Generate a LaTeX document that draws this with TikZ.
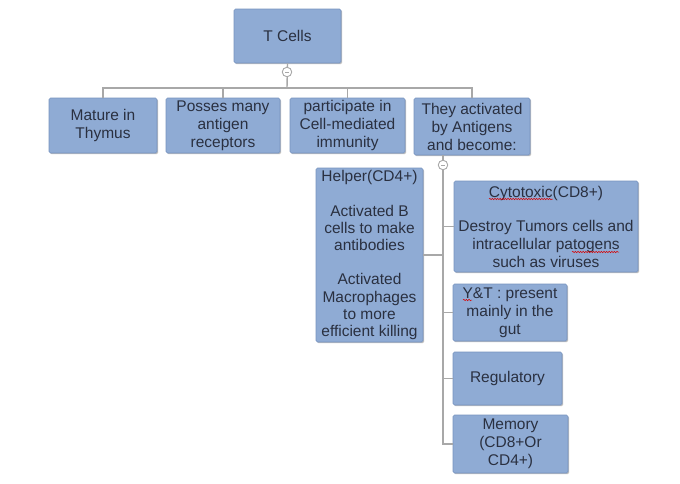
\documentclass[tikz,border=0pt]{standalone}
\usepackage{fontspec}
\setmainfont{Liberation Sans}
\usetikzlibrary{shadows,decorations.pathmorphing}
\definecolor{boxfill}{RGB}{143,171,212}
\definecolor{boxline}{RGB}{118,146,190}
\definecolor{txt}{RGB}{42,48,64}
\definecolor{conn}{RGB}{168,168,168}
\tikzset{
  card/.style={draw=boxline, line width=0.6pt, fill=boxfill, rounded corners=1.5pt,
    inner sep=0pt, align=center, text=txt,
    font=\fontsize{15.5}{18}\selectfont,
    drop shadow={shadow xshift=1.2pt, shadow yshift=-1.2pt, fill=black, opacity=0.25}},
  wire/.style={draw=conn, line width=1.4pt},
  toggle/.style={circle, draw=conn, line width=0.9pt, fill=white, inner sep=0pt, minimum size=9.5pt},
  spell/.style={draw=red!85!black, line width=0.5pt, decorate,
    decoration={snake, amplitude=0.7pt, segment length=2.6pt}}
}
\begin{document}
\begin{tikzpicture}[x=1pt, y=-1pt]
\useasboundingbox (0,0) rectangle (680,483);
% top level
\node[card, minimum width=107, minimum height=54] (tc) at (287.5,36) {T Cells};
\node[card, minimum width=108, minimum height=55] (mat) at (103,125.5) {Mature in\\Thymus};
\node[card, minimum width=114, minimum height=55] (pos) at (223,125.5) {Posses many\\antigen\\receptors};
\node[card, minimum width=115, minimum height=55] (par) at (347.5,125.5) {participate in\\Cell-mediated\\immunity};
\node[card, minimum width=116, minimum height=57] (act) at (472,126.5) {They activated\\by Antigens\\and become:};
% second level
\node[card, minimum width=107, minimum height=174, font=\fontsize{15.5}{17.2}\selectfont] (hel) at (369.5,255)
  {Helper(CD4+)\\[17.2pt]Activated B\\cells to make\\antibodies\\[17.2pt]Activated\\Macrophages\\to more\\efficient killing};
\node[card, minimum width=184, minimum height=91] (cyt) at (546,226.5)
  {Cytotoxic(CD8+)\\[16pt]Destroy Tumors cells and\\intracellular patogens\\such as viruses};
\node[card, minimum width=114, minimum height=57] (yt) at (510,312.5) {Y\&T : present\\mainly in the\\gut};
\node[card, minimum width=109, minimum height=53] (reg) at (507.5,378.5) {Regulatory};
\node[card, minimum width=115, minimum height=58] (mem) at (510.5,444) {Memory\\(CD8+Or\\CD4+)};
% spelling marks
\coordinate (s1a) at (489,199); \coordinate (s1b) at (553,199);
\coordinate (s2a) at (572,252); \coordinate (s2b) at (619,252);
\coordinate (s3a) at (463,300); \coordinate (s3b) at (472,300);
\draw[spell] (s1a) -- (s1b);
\draw[spell] (s2a) -- (s2b);
\draw[spell] (s3a) -- (s3b);
% connectors
\coordinate (t1) at (287,72);
\coordinate (bar) at (287,88);
\coordinate (t2) at (443,165);
\draw[wire] (tc.south) -- (bar);
\draw[wire] (mat.north) -- (mat.north |- bar) -- (act.north |- bar) -- (act.north);
\draw[wire] (pos.north) -- (pos.north |- bar);
\draw[wire] (par.north) -- (par.north |- bar);
\draw[wire] (act.south -| t2) -- (t2 |- mem.west) -- (mem.west);
\draw[wire] (hel.east) -- (hel.east -| t2);
\draw[wire] (t2 |- cyt.west) -- (cyt.west);
\draw[wire] (t2 |- yt.west) -- (yt.west);
\draw[wire] (t2 |- reg.west) -- (reg.west);
% collapse toggles
\node[toggle] (k1) at (t1) {};
\draw[conn, line width=0.9pt] ([xshift=-2pt]k1.center) -- ([xshift=2pt]k1.center);
\node[toggle] (k2) at (t2) {};
\draw[conn, line width=0.9pt] ([xshift=-2pt]k2.center) -- ([xshift=2pt]k2.center);
\end{tikzpicture}
\end{document}
